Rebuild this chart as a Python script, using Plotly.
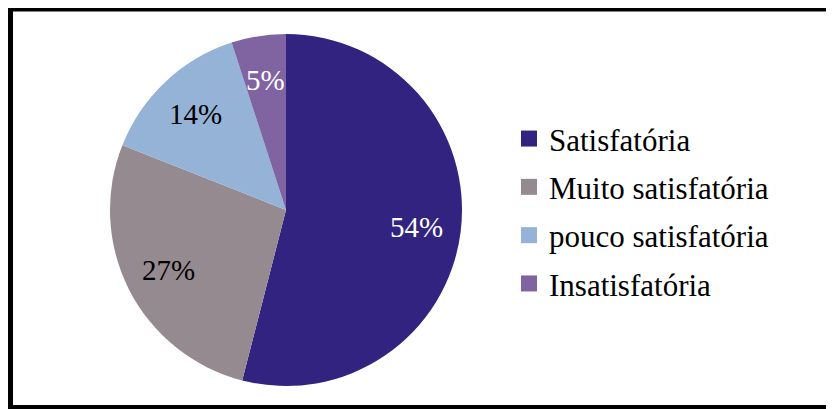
import math
import plotly.graph_objects as go

labels = ["Satisfatória", "Muito satisfatória", "pouco satisfatória", "Insatisfatória"]
values = [54, 27, 14, 5]
colors = ["#31237F", "#948A90", "#95B3D7", "#8064A2"]
text_colors = ["white", "black", "black", "white"]

W, H = 834, 409
FONT = "Liberation Serif"

# pie geometry in figure pixels (page has an 8px body offset)
CX, CY, R = 278, 202, 176

fig = go.Figure()
fig.add_trace(go.Pie(
    labels=labels,
    values=values,
    sort=False,
    direction="clockwise",
    rotation=0,
    marker=dict(colors=colors, line=dict(width=0)),
    textinfo="none",
    domain=dict(x=[(CX - R) / W, (CX + R) / W], y=[(H - CY - R) / H, (H - CY + R) / H]),
    hoverinfo="label+percent",
    showlegend=False,
))

# legend entries, one per category
for lab, col in zip(labels, colors):
    fig.add_trace(go.Scatter(
        x=[None], y=[None], mode="markers", name=lab,
        marker=dict(symbol="square", size=16, color=col),
        legendgroup=lab, showlegend=True,
    ))

# percentage labels placed along each slice's bisector
total = sum(values)
cum = 0
for v, tc in zip(values, text_colors):
    mid = (cum + v / 2) / total * 2 * math.pi
    cum += v
    rr = 0.75 * R
    px = CX + rr * math.sin(mid)
    py = CY - rr * math.cos(mid)
    fig.add_annotation(
        x=px / W, y=(H - py) / H, xref="paper", yref="paper",
        text=f"{round(v / total * 100)}%", showarrow=False,
        font=dict(family=FONT, size=29, color=tc),
        xanchor="center", yanchor="middle",
    )

fig.add_shape(type="rect", xref="paper", yref="paper",
              x0=2 / W, x1=1.05, y0=(H - 400) / H, y1=(H - 0.5) / H,
              line=dict(color="black", width=6), fillcolor="rgba(0,0,0,0)")

fig.update_layout(
    width=W, height=H,
    margin=dict(l=0, r=0, t=0, b=0),
    paper_bgcolor="white",
    plot_bgcolor="white",
    xaxis=dict(visible=False),
    yaxis=dict(visible=False),
    showlegend=True,
    legend=dict(
        x=501 / W, xanchor="left",
        y=(H - 203.4) / H, yanchor="middle",
        font=dict(family=FONT, size=31, color="black"),
        itemwidth=30,
        tracegroupgap=5,
        bgcolor="rgba(0,0,0,0)",
    ),
)

fig.write_html("out.html")
